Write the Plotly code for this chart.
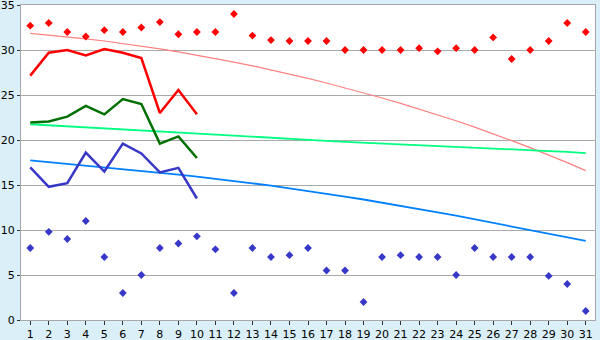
import plotly.graph_objects as go

days = list(range(1, 32))
tick_labels = [str(d) for d in days]

red_points = [32.7, 33.0, 32.0, 31.5, 32.2, 32.0, 32.5, 33.1, 31.75, 32.0,
              32.0, 34.0, 31.6, 31.1, 31.0, 31.0, 31.0, 30.0, 30.0, 30.0,
              30.0, 30.2, 29.85, 30.2, 30.0, 31.4, 29.0, 30.0, 31.0, 33.0, 32.0]
blue_points = [8.0, 9.8, 9.0, 11.0, 7.0, 3.0, 5.0, 8.0, 8.5, 9.3,
               7.85, 3.0, 8.0, 7.0, 7.2, 8.0, 5.5, 5.5, 2.0, 7.0,
               7.2, 7.0, 7.0, 5.0, 8.0, 7.0, 7.0, 7.0, 4.9, 4.0, 1.0]

line_days = list(range(1, 11))
red_line = [27.15, 29.7, 30.0, 29.4, 30.1, 29.7, 29.1, 23.0, 25.55, 22.85]
green_line = [21.95, 22.05, 22.6, 23.8, 22.85, 24.55, 24.0, 19.6, 20.4, 18.0]
blue_line = [16.95, 14.8, 15.2, 18.6, 16.5, 19.6, 18.5, 16.4, 16.9, 13.5]

red_trend = [31.85, 31.67, 31.47, 31.24, 31.00, 30.73, 30.44, 30.13, 29.79, 29.44,
             29.06, 28.66, 28.24, 27.79, 27.33, 26.84, 26.33, 25.80, 25.24, 24.67,
             24.07, 23.45, 22.81, 22.14, 21.43, 20.70, 19.93, 19.15, 18.33, 17.48, 16.6]
green_trend = [21.75, 21.63, 21.51, 21.39, 21.27, 21.15, 21.03, 20.91, 20.79, 20.67,
               20.56, 20.45, 20.34, 20.23, 20.12, 20.01, 19.91, 19.80, 19.70, 19.59,
               19.49, 19.40, 19.31, 19.22, 19.13, 19.04, 18.95, 18.86, 18.77, 18.68, 18.55]
blue_trend = [17.74, 17.55, 17.36, 17.17, 16.97, 16.77, 16.57, 16.36, 16.15, 15.93,
              15.70, 15.45, 15.19, 14.92, 14.64, 14.35, 14.04, 13.72, 13.39, 13.05,
              12.70, 12.34, 11.97, 11.59, 11.20, 10.81, 10.41, 10.00, 9.60, 9.19, 8.78]

fig = go.Figure()

fig.add_trace(go.Scatter(x=days, y=red_trend, mode="lines",
                         line=dict(color="#ff8080", width=1.2), hoverinfo="skip"))
fig.add_trace(go.Scatter(x=days, y=green_trend, mode="lines",
                         line=dict(color="#00ff80", width=1.8), hoverinfo="skip"))
fig.add_trace(go.Scatter(x=days, y=blue_trend, mode="lines",
                         line=dict(color="#0080ff", width=1.8), hoverinfo="skip"))

fig.add_trace(go.Scatter(x=line_days, y=red_line, mode="lines",
                         line=dict(color="#ff0000", width=2.5)))
fig.add_trace(go.Scatter(x=line_days, y=green_line, mode="lines",
                         line=dict(color="#007000", width=2.5)))
fig.add_trace(go.Scatter(x=line_days, y=blue_line, mode="lines",
                         line=dict(color="#3838c8", width=2.5)))

fig.add_trace(go.Scatter(x=days, y=red_points, mode="markers",
                         marker=dict(symbol="diamond", size=6, color="#ff0000")))
fig.add_trace(go.Scatter(x=days, y=blue_points, mode="markers",
                         marker=dict(symbol="diamond", size=6, color="#3838c8")))

fig.update_layout(
    width=600, height=340,
    margin=dict(l=21, r=5, t=5, b=20),
    paper_bgcolor="#daeff7",
    plot_bgcolor="#ffffff",
    showlegend=False,
    font=dict(family="DejaVu Sans", size=11, color="#000000"),
)
fig.update_xaxes(
    range=[0.5, 31.5], tickmode="array", tickvals=days, ticktext=tick_labels,
    showgrid=False, zeroline=False, showline=True, linecolor="#a8a8a8", linewidth=1,
    mirror=True, ticks="outside", ticklen=4, tickcolor="#333333", tickwidth=1,
    tickfont=dict(size=11), automargin=False, ticklabeloverflow="allow",
)
fig.update_yaxes(
    range=[0, 35], tickvals=[0, 5, 10, 15, 20, 25, 30, 35],
    showgrid=True, gridcolor="#aaaaaa", gridwidth=1, zeroline=False,
    showline=True, linecolor="#a8a8a8", linewidth=1, mirror=True,
    ticks="outside", ticklen=3, tickcolor="#333333", tickwidth=1,
    tickfont=dict(size=11), automargin=False, ticklabeloverflow="allow",
)

fig.write_html("out.html")
